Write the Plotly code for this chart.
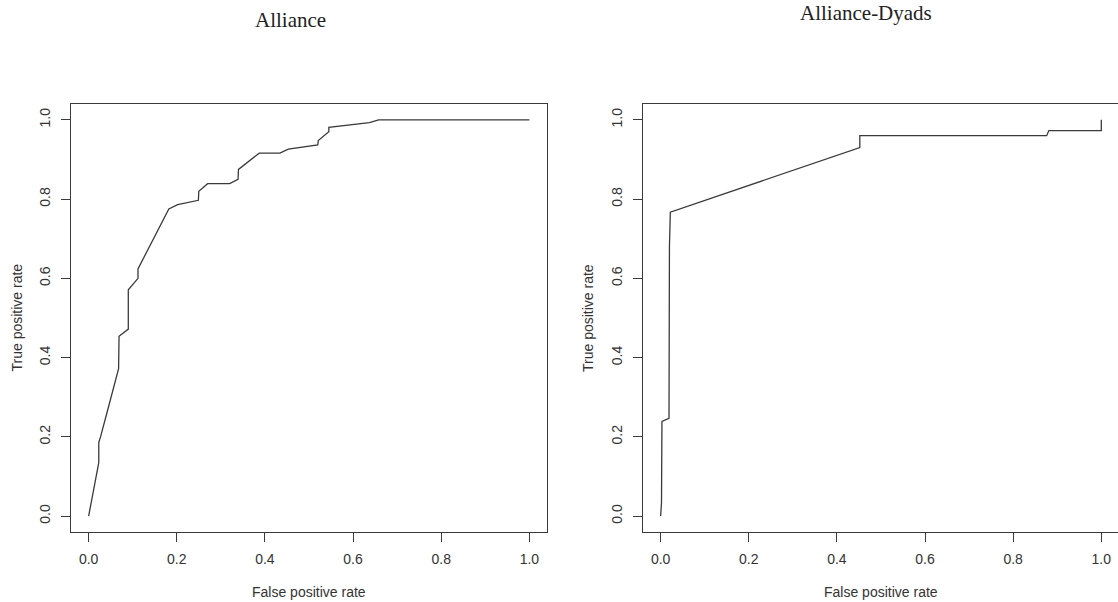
import plotly.graph_objects as go

# ROC curve data
alliance_fpr = [0.0, 0.009, 0.023, 0.023, 0.027, 0.044, 0.068, 0.069, 0.090, 0.090,
                0.112, 0.112, 0.182, 0.202, 0.249, 0.250, 0.270, 0.320, 0.339, 0.340,
                0.387, 0.434, 0.453, 0.520, 0.521, 0.545, 0.545, 0.637, 0.658, 1.0]
alliance_tpr = [0.0, 0.055, 0.135, 0.186, 0.200, 0.271, 0.372, 0.454, 0.472, 0.571,
                0.600, 0.624, 0.775, 0.786, 0.797, 0.820, 0.839, 0.839, 0.850, 0.875,
                0.916, 0.916, 0.926, 0.937, 0.948, 0.970, 0.981, 0.993, 1.0, 1.0]

dyads_fpr = [0.0, 0.002, 0.003, 0.019, 0.020, 0.022, 0.452, 0.452, 0.876, 0.881, 1.0, 1.0]
dyads_tpr = [0.0, 0.034, 0.239, 0.247, 0.680, 0.767, 0.930, 0.960, 0.960, 0.973, 0.973, 1.0]

tick_vals = [0.0, 0.2, 0.4, 0.6, 0.8, 1.0]
tick_text = ["0.0", "0.2", "0.4", "0.6", "0.8", "1.0"]
titles = ["Alliance", "Alliance-Dyads"]
x_title = "False positive rate"
y_title = "True positive rate"

W, H = 1118, 602
LINE = "#3a3a3a"
TXT = "#333333"

def px(x):
    return x / W

def py(y):
    return 1 - y / H

fig = go.Figure()
fig.add_trace(go.Scatter(x=alliance_fpr, y=alliance_tpr, mode="lines",
                         line=dict(color=LINE, width=1.3), xaxis="x", yaxis="y",
                         showlegend=False, hoverinfo="skip"))
fig.add_trace(go.Scatter(x=dyads_fpr, y=dyads_tpr, mode="lines",
                         line=dict(color=LINE, width=1.3), xaxis="x2", yaxis="y2",
                         showlegend=False, hoverinfo="skip"))

ydom = [py(532), py(104)]
axis_common = dict(showgrid=False, zeroline=False, showline=True, linecolor=LINE,
                   linewidth=1.3, ticks="outside", ticklen=9, tickwidth=1.3,
                   tickcolor=LINE, tickvals=tick_vals, ticktext=tick_text,
                   tickfont=dict(family="Liberation Sans, Arial", size=14, color=TXT))

fig.update_layout(
    width=W, height=H,
    margin=dict(l=0, r=0, t=0, b=0),
    paper_bgcolor="white", plot_bgcolor="white",
    xaxis=dict(domain=[px(71), px(547)], range=[-0.04, 1.04], mirror=True,
               anchor="y", ticklabelstandoff=5, **axis_common),
    yaxis=dict(domain=ydom, range=[-0.04, 1.04], mirror=True, tickangle=-90,
               anchor="x", ticklabelstandoff=5, **axis_common),
    xaxis2=dict(domain=[px(643), 1.0], range=[-0.04, 1.0379], mirror=True,
                anchor="y2", ticklabelstandoff=5, **axis_common),
    yaxis2=dict(domain=ydom, range=[-0.04, 1.04], mirror=False, tickangle=-90,
                anchor="x2", ticklabelstandoff=5, **axis_common),
)

ann = []
# panel titles
ann.append(dict(x=px(290), y=py(20), text=titles[0]))
ann.append(dict(x=px(866), y=py(13), text=titles[1]))
for a in ann:
    a.update(xref="paper", yref="paper", showarrow=False, xanchor="center", yanchor="middle",
             font=dict(family="Liberation Serif, DejaVu Serif, serif", size=21, color="#222222"))

labels = [
    dict(x=px(309), y=py(592), text=x_title, textangle=0),
    dict(x=px(881), y=py(592), text=x_title, textangle=0),
    dict(x=px(16.5), y=py(318), text=y_title, textangle=-90),
    dict(x=px(588), y=py(318), text=y_title, textangle=-90),
]
for a in labels:
    a.update(xref="paper", yref="paper", showarrow=False, xanchor="center", yanchor="middle",
             font=dict(family="Liberation Sans, Arial", size=14, color=TXT))
fig.update_layout(annotations=ann + labels)

fig.write_html("out.html", config={"displayModeBar": False},
               post_script="document.body.style.margin='0';document.body.style.overflow='hidden';")
